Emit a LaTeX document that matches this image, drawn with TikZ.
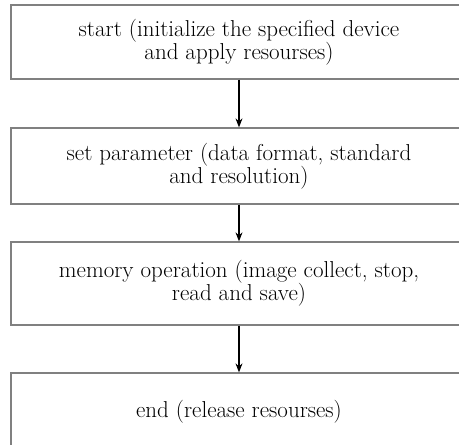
\documentclass[tikz,border=0pt]{standalone}
\usetikzlibrary{arrows.meta}
\begin{document}
\begin{tikzpicture}[x=1pt, y=-1pt,
    stagebox/.style={draw=black!50, line width=1.3pt, minimum width=456pt,
        align=center, inner sep=0pt, font=\fontsize{23}{23}\selectfont},
    flow/.style={-{Stealth[length=9pt,width=7pt]}, line width=1.1pt}]
    \useasboundingbox (0,0) rectangle (459,445);
    % boxes are placed at the pixel centres of the reference
    \node[stagebox, minimum height=74pt] (start) at (239,42)
        {start (initialize the specified device\\and apply resourses)};
    \node[stagebox, minimum height=76pt] (param) at (239,166)
        {set parameter (data format, standard\\and resolution)};
    \node[stagebox, minimum height=83pt] (memory) at (239,283.5)
        {memory operation (image collect, stop,\\read and save)};
    \node[stagebox, minimum height=78pt] (release) at (239,412)
        {end (release resourses)};
    \foreach \a/\b in {start/param, param/memory, memory/release}{
        \draw[flow] (\a) -- (\b);
    }
\end{tikzpicture}
\end{document}
